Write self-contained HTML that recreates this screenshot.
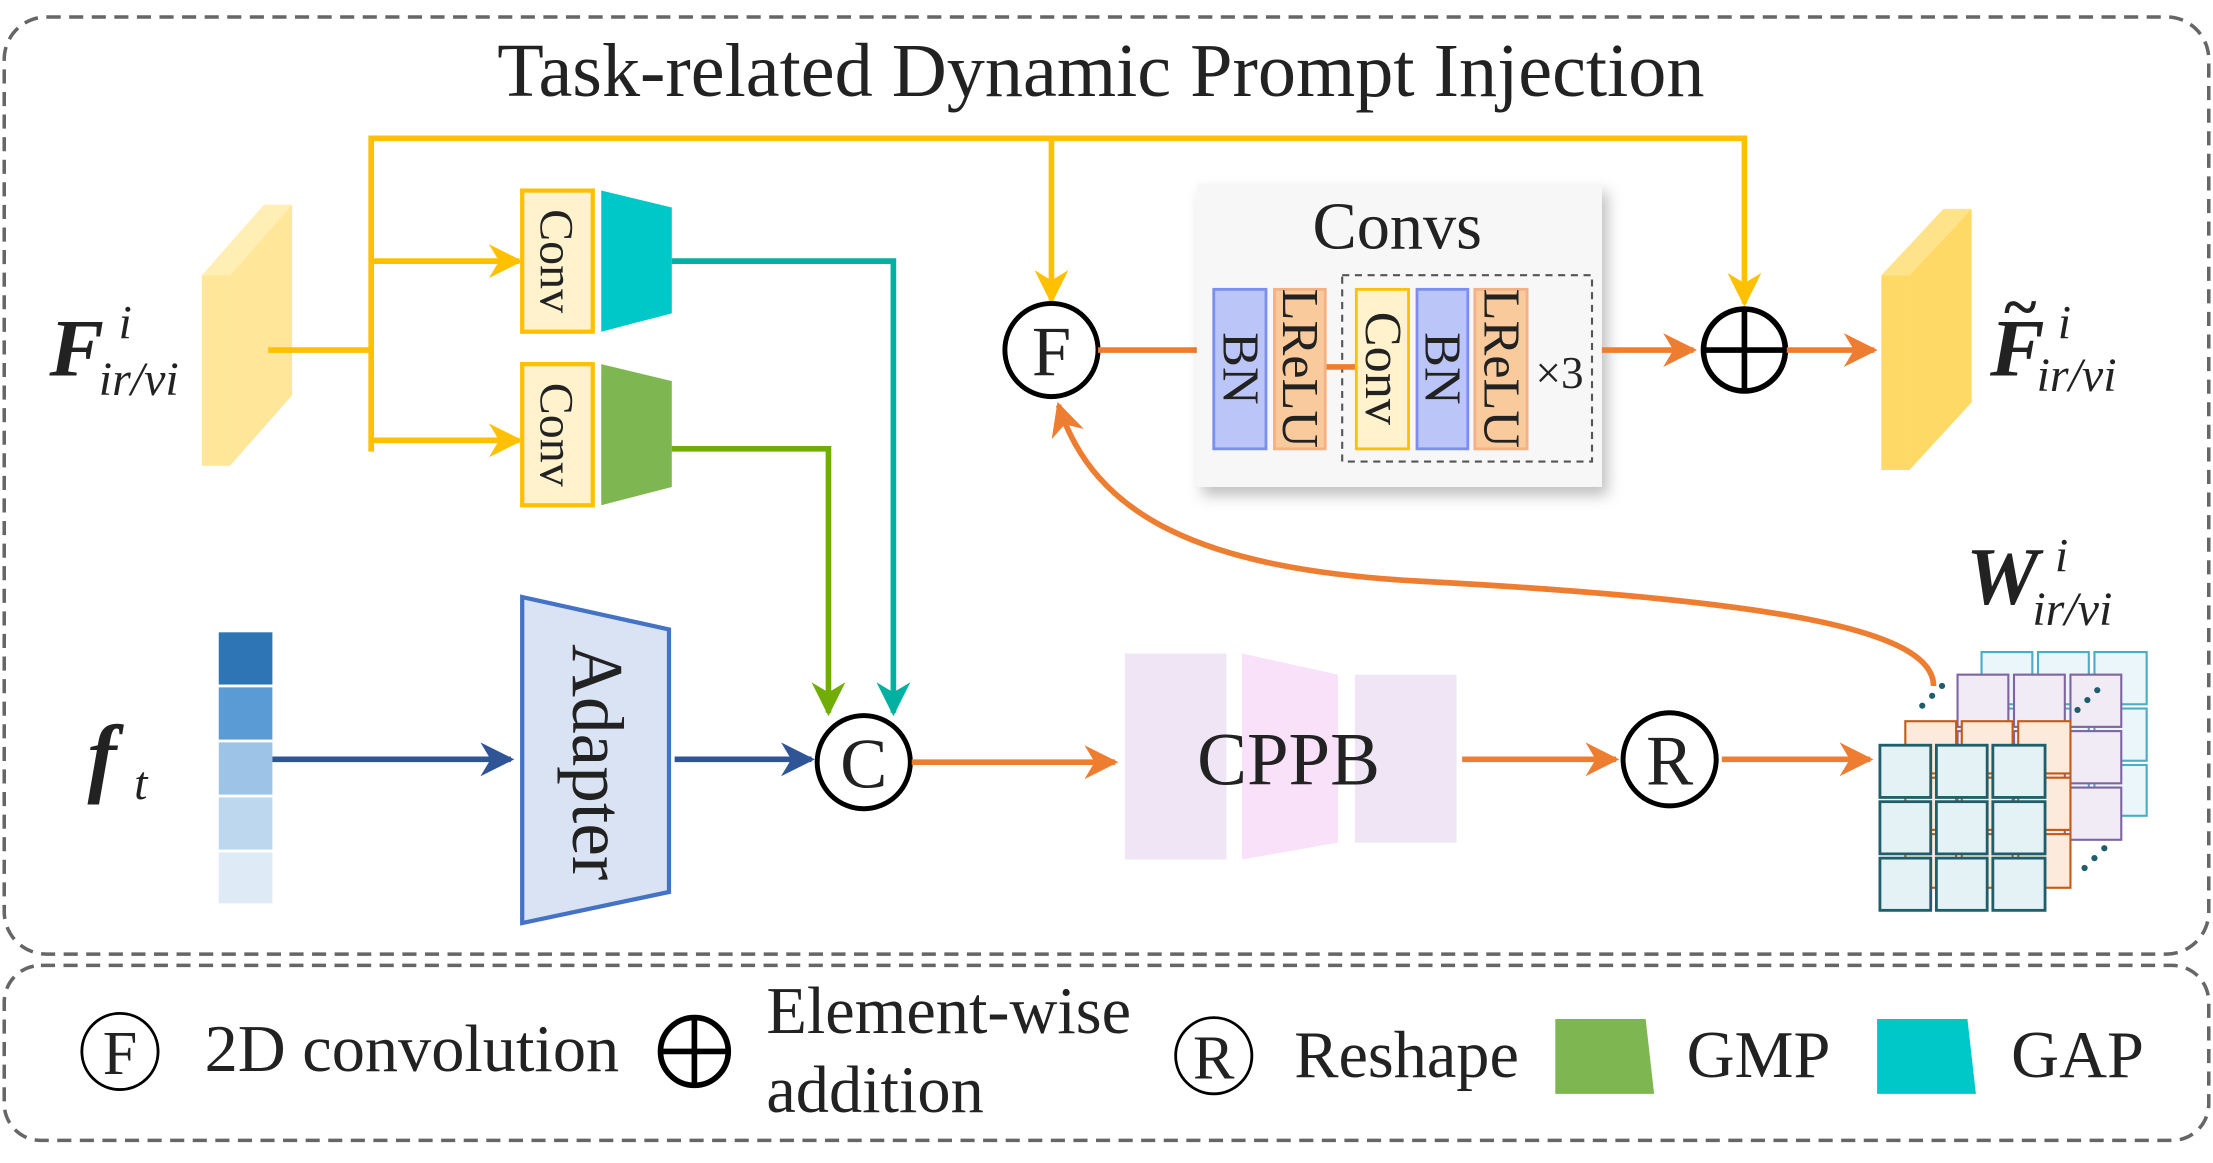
<!DOCTYPE html>
<html><head><meta charset="utf-8"><style>
html,body{margin:0;padding:0;background:#fff}
svg{display:block}
text{font-family:"Liberation Serif",serif;fill:#222}
</style></head><body>
<svg width="2213" height="1163" viewBox="0 0 1568 824" xmlns="http://www.w3.org/2000/svg">
<defs>
<marker id="Y" viewBox="0 0 10 10" refX="9" refY="5" markerWidth="24" markerHeight="24" markerUnits="userSpaceOnUse" orient="auto"><path d="M0,0L10,5L0,10L3,5z" fill="#FFC000"/></marker>
<marker id="O" viewBox="0 0 10 10" refX="9" refY="5" markerWidth="24" markerHeight="24" markerUnits="userSpaceOnUse" orient="auto"><path d="M0,0L10,5L0,10L3,5z" fill="#ED7D31"/></marker>
<marker id="B" viewBox="0 0 10 10" refX="9" refY="5" markerWidth="24" markerHeight="24" markerUnits="userSpaceOnUse" orient="auto"><path d="M0,0L10,5L0,10L3,5z" fill="#2F5597"/></marker>
<marker id="G" viewBox="0 0 10 10" refX="9" refY="5" markerWidth="24" markerHeight="24" markerUnits="userSpaceOnUse" orient="auto"><path d="M0,0L10,5L0,10L3,5z" fill="#70AD07"/></marker>
<marker id="T" viewBox="0 0 10 10" refX="9" refY="5" markerWidth="24" markerHeight="24" markerUnits="userSpaceOnUse" orient="auto"><path d="M0,0L10,5L0,10L3,5z" fill="#00B0A0"/></marker>
<filter id="sh" x="-10%" y="-10%" width="130%" height="130%"><feDropShadow dx="4" dy="6" stdDeviation="5" flood-color="#000" flood-opacity="0.25"/></filter>
</defs>
<rect x="3" y="12" width="1562" height="664" rx="30" fill="none" stroke="#666" stroke-width="2.5" stroke-dasharray="10,6"/>
<rect x="3" y="684" width="1562" height="124" rx="26" fill="none" stroke="#666" stroke-width="2.5" stroke-dasharray="10,6"/>
<text x="780" y="68" font-size="54" text-anchor="middle">Task-related Dynamic Prompt Injection</text>

<polygon points="143,195 187,145 207,145 163,195" fill="#FFEFB5"/>
<polygon points="163,195 207,145 207,280 163,330" fill="#FFE699"/>
<rect x="143" y="195" width="20" height="135" fill="#FFE699"/>
<text x="35" y="266" font-size="58" font-weight="bold" font-style="italic" fill="#000">F</text>
<text x="84" y="240" font-size="34" font-style="italic">i</text>
<text x="70" y="280" font-size="34" font-style="italic">ir/vi</text>

<g stroke="#FFC000" stroke-width="4" fill="none">
<polyline points="190,248 263,248"/>
<polyline points="263,320 263,98 1236,98 1236,215" marker-end="url(#Y)"/>
<polyline points="745,98 745,213" marker-end="url(#Y)"/>
<polyline points="263,185 368,185" marker-end="url(#Y)"/>
<polyline points="263,312 368,312" marker-end="url(#Y)"/>
</g>
<rect x="370" y="135" width="50" height="100" fill="#FFF2CC" stroke="#FFC000" stroke-width="3"/>
<rect x="370" y="258" width="50" height="100" fill="#FFF2CC" stroke="#FFC000" stroke-width="3"/>
<text transform="translate(383,185) rotate(90)" font-size="34" text-anchor="middle">Conv</text>
<text transform="translate(383,308) rotate(90)" font-size="34" text-anchor="middle">Conv</text>
<polygon points="426,135 476,147 476,222 426,235" fill="#00C8C8"/>
<polygon points="426,258 476,270 476,345 426,358" fill="#7EB651"/>
<polyline points="476,185 633,185 633,505" stroke="#00B0A0" stroke-width="4" fill="none" marker-end="url(#T)"/>
<polyline points="476,318 587,318 587,505" stroke="#70AD07" stroke-width="4" fill="none" marker-end="url(#G)"/>

<rect x="155" y="448" width="38" height="37" fill="#2E75B6"/>
<rect x="155" y="487" width="38" height="37" fill="#5B9BD5"/>
<rect x="155" y="526" width="38" height="37" fill="#9DC3E6"/>
<rect x="155" y="565" width="38" height="37" fill="#BDD7EE"/>
<rect x="155" y="604" width="38" height="36" fill="#DEEBF7"/>
<text x="62" y="557" font-size="62" font-weight="bold" font-style="italic" fill="#000">f</text>
<text x="95" y="566" font-size="34" font-style="italic">t</text>
<line x1="193" y1="538" x2="362" y2="538" stroke="#2F5597" stroke-width="4" marker-end="url(#B)"/>
<polygon points="370,423 474,446 474,632 370,654" fill="#DAE3F3" stroke="#4472C4" stroke-width="3"/>
<text transform="translate(406,540) rotate(90)" font-size="52" text-anchor="middle">Adapter</text>
<line x1="478" y1="538" x2="575" y2="538" stroke="#2F5597" stroke-width="4" marker-end="url(#B)"/>
<circle cx="612" cy="540" r="33" fill="#fff" stroke="#000" stroke-width="3.5"/>
<text x="612" y="558" font-size="50" text-anchor="middle">C</text>
<line x1="646" y1="540" x2="790" y2="540" stroke="#ED7D31" stroke-width="4" marker-end="url(#O)"/>

<rect x="797" y="463" width="72" height="146" fill="#EFE5F5"/>
<polygon points="880,463 948,478 948,597 880,609" fill="#F9E1F9"/>
<rect x="960" y="478" width="72" height="119" fill="#EFE5F5"/>
<text x="913" y="556" font-size="53" text-anchor="middle">CPPB</text>
<line x1="1036" y1="538" x2="1145" y2="538" stroke="#ED7D31" stroke-width="4" marker-end="url(#O)"/>
<circle cx="1183" cy="538" r="33" fill="#fff" stroke="#000" stroke-width="3.5"/>
<text x="1183" y="556" font-size="50" text-anchor="middle">R</text>
<line x1="1220" y1="538" x2="1325" y2="538" stroke="#ED7D31" stroke-width="4" marker-end="url(#O)"/>

<g stroke-width="1.5">
<g fill="#EAF6FA" stroke="#4BACC6">
<rect x="1404" y="462" width="36" height="37"/><rect x="1444" y="462" width="36" height="37"/><rect x="1484" y="462" width="37" height="37"/>
<rect x="1404" y="502" width="36" height="37"/><rect x="1444" y="502" width="36" height="37"/><rect x="1484" y="502" width="37" height="37"/>
<rect x="1404" y="542" width="36" height="36"/><rect x="1444" y="542" width="36" height="36"/><rect x="1484" y="542" width="37" height="36"/>
</g>
<g fill="#F0EBF5" stroke="#8064A2">
<rect x="1387" y="478" width="36" height="37"/><rect x="1427" y="478" width="36" height="37"/><rect x="1467" y="478" width="36" height="37"/>
<rect x="1387" y="518" width="36" height="37"/><rect x="1427" y="518" width="36" height="37"/><rect x="1467" y="518" width="36" height="37"/>
<rect x="1387" y="558" width="36" height="37"/><rect x="1427" y="558" width="36" height="37"/><rect x="1467" y="558" width="36" height="37"/>
</g>
<g fill="#FCEBDD" stroke="#C55A11">
<rect x="1350" y="511" width="36" height="37"/><rect x="1390" y="511" width="36" height="37"/><rect x="1430" y="511" width="37" height="37"/>
<rect x="1350" y="551" width="36" height="37"/><rect x="1390" y="551" width="36" height="37"/><rect x="1430" y="551" width="37" height="37"/>
<rect x="1350" y="591" width="36" height="38"/><rect x="1390" y="591" width="36" height="38"/><rect x="1430" y="591" width="37" height="38"/>
</g>
<g fill="#E4F2F6" stroke="#1F5F6B" stroke-width="2">
<rect x="1332" y="528" width="36" height="37"/><rect x="1372" y="528" width="36" height="37"/><rect x="1412" y="528" width="37" height="37"/>
<rect x="1332" y="568" width="36" height="37"/><rect x="1372" y="568" width="36" height="37"/><rect x="1412" y="568" width="37" height="37"/>
<rect x="1332" y="608" width="36" height="37"/><rect x="1372" y="608" width="36" height="37"/><rect x="1412" y="608" width="37" height="37"/>
</g>
</g>
<g fill="#1F5F6B"><circle cx="1362" cy="500" r="2.2"/><circle cx="1369" cy="493" r="2.2"/><circle cx="1376" cy="486" r="2.2"/>
<circle cx="1472" cy="503" r="2.2"/><circle cx="1479" cy="496" r="2.2"/><circle cx="1486" cy="489" r="2.2"/>
<circle cx="1477" cy="615" r="2.2"/><circle cx="1484" cy="608" r="2.2"/><circle cx="1491" cy="601" r="2.2"/></g>
<text x="1393" y="428" font-size="58" font-weight="bold" font-style="italic" fill="#000">W</text>
<text x="1456" y="405" font-size="34" font-style="italic">i</text>
<text x="1440" y="443" font-size="34" font-style="italic">ir/vi</text>

<path d="M1370,486 C1370,445 1250,425 1010,412 C850,404 775,365 750,287" stroke="#ED7D31" stroke-width="4" fill="none" marker-end="url(#O)"/>

<circle cx="745" cy="248" r="33" fill="#fff" stroke="#000" stroke-width="3.5"/>
<text x="745" y="266" font-size="50" text-anchor="middle">F</text>
<line x1="778" y1="248" x2="860" y2="248" stroke="#ED7D31" stroke-width="4"/>

<rect x="848" y="130" width="287" height="215" fill="#F7F7F7" filter="url(#sh)"/>
<text x="990" y="176" font-size="47" text-anchor="middle">Convs</text>
<rect x="951" y="195" width="177" height="132" fill="none" stroke="#555" stroke-width="1.5" stroke-dasharray="5,4"/>
<line x1="939" y1="260" x2="961" y2="260" stroke="#ED7D31" stroke-width="4"/>
<rect x="860" y="205" width="37" height="113" fill="#BCC5F7" stroke="#7B8FEF" stroke-width="2"/>
<rect x="903" y="205" width="36" height="113" fill="#F9CB9C" stroke="#F4B183" stroke-width="2"/>
<rect x="961" y="205" width="37" height="113" fill="#FFF2CC" stroke="#FFC000" stroke-width="2"/>
<rect x="1004" y="205" width="36" height="113" fill="#BCC5F7" stroke="#7B8FEF" stroke-width="2"/>
<rect x="1045" y="205" width="37" height="113" fill="#F9CB9C" stroke="#F4B183" stroke-width="2"/>
<g font-size="37" text-anchor="middle">
<text transform="translate(867,261) rotate(90)">BN</text>
<text transform="translate(909,261) rotate(90)">LReLU</text>
<text transform="translate(968,261) rotate(90)">Conv</text>
<text transform="translate(1010,261) rotate(90)">BN</text>
<text transform="translate(1052,261) rotate(90)">LReLU</text>
</g>
<text x="1105" y="275" font-size="32" text-anchor="middle">×3</text>
<line x1="1135" y1="248" x2="1200" y2="248" stroke="#ED7D31" stroke-width="4" marker-end="url(#O)"/>
<circle cx="1236" cy="248" r="29" fill="#fff" stroke="#000" stroke-width="4"/>
<line x1="1207" y1="248" x2="1265" y2="248" stroke="#000" stroke-width="4"/>
<line x1="1236" y1="219" x2="1236" y2="277" stroke="#000" stroke-width="4"/>
<line x1="1266" y1="248" x2="1328" y2="248" stroke="#ED7D31" stroke-width="4" marker-end="url(#O)"/>

<polygon points="1333,195 1377,148 1397,148 1353,195" fill="#FFE38A"/>
<polygon points="1353,195 1397,148 1397,285 1353,333" fill="#FFD966"/>
<rect x="1333" y="195" width="20" height="138" fill="#FFD966"/>
<text x="1410" y="266" font-size="58" font-weight="bold" font-style="italic" fill="#000">F</text>
<text x="1420" y="232" font-size="44" font-weight="bold" fill="#000">~</text>
<text x="1458" y="240" font-size="34" font-style="italic">i</text>
<text x="1443" y="277" font-size="34" font-style="italic">ir/vi</text>

<circle cx="85" cy="745" r="27" fill="#fff" stroke="#000" stroke-width="2"/>
<text x="85" y="761" font-size="44" text-anchor="middle">F</text>
<text x="145" y="759" font-size="47">2D convolution</text>
<circle cx="492" cy="745" r="24" fill="#fff" stroke="#000" stroke-width="4"/>
<line x1="468" y1="745" x2="516" y2="745" stroke="#000" stroke-width="4"/>
<line x1="492" y1="721" x2="492" y2="769" stroke="#000" stroke-width="4"/>
<text x="543" y="732" font-size="47">Element-wise</text>
<text x="543" y="788" font-size="47">addition</text>
<circle cx="860" cy="748" r="27" fill="#fff" stroke="#000" stroke-width="2"/>
<text x="860" y="764" font-size="44" text-anchor="middle">R</text>
<text x="917" y="763" font-size="47">Reshape</text>
<polygon points="1102,722 1166,722 1172,775 1102,775" fill="#7EB651"/>
<text x="1195" y="763" font-size="47">GMP</text>
<polygon points="1330,722 1394,722 1400,775 1330,775" fill="#00C8C8"/>
<text x="1425" y="763" font-size="47">GAP</text>
</svg>
</body></html>
